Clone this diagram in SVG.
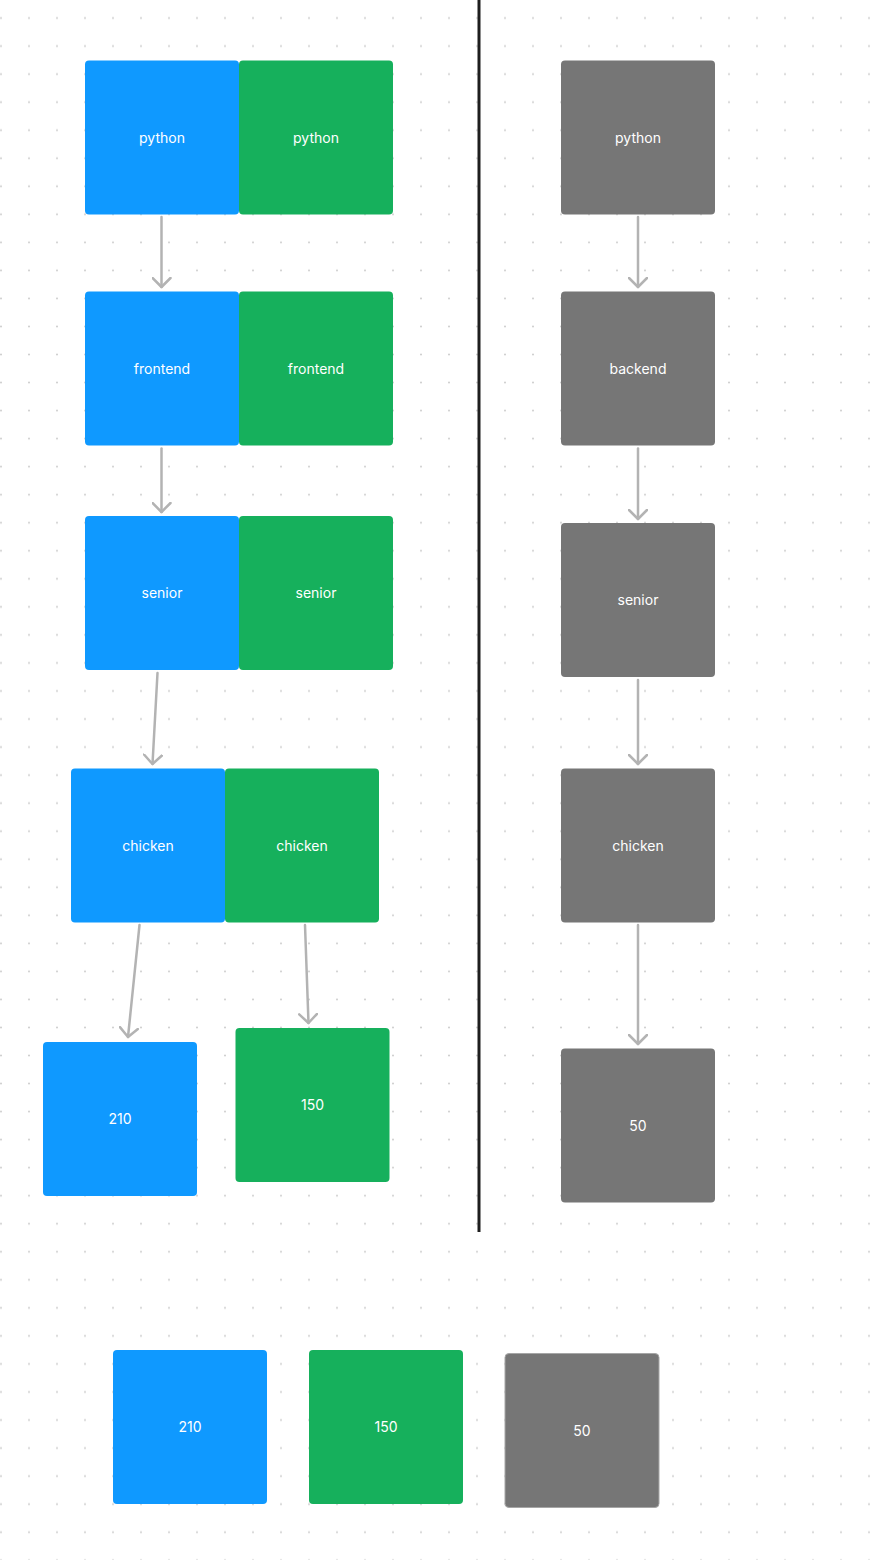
<svg xmlns="http://www.w3.org/2000/svg" width="878" height="1560" viewBox="0 0 878 1560">
  <defs>
    <pattern id="dots" x="-13" y="4" width="28" height="28.04" patternUnits="userSpaceOnUse">
      <circle cx="14" cy="14.02" r="1" fill="#cccccc"/>
    </pattern>
    <marker id="arrow" viewBox="0 0 20 20" refX="10" refY="10" markerWidth="20" markerHeight="20" markerUnits="userSpaceOnUse" orient="auto">
      <path d="M1,1 L10,10 L1,19" fill="none" stroke="#b3b3b3" stroke-width="2.5" stroke-linecap="round" stroke-linejoin="round"/>
    </marker>
  </defs>
  <style>
    .blue { fill: #0f99ff; }
    .green { fill: #16b05c; }
    .gray { fill: #767676; }
    .lbl { font-family: Inter, "Liberation Sans", sans-serif; font-size: 14px; fill: #ffffff; text-anchor: middle; }
    .conn { stroke: #b3b3b3; stroke-width: 2.5; fill: none; stroke-linecap: round; marker-end: url(#arrow); }
  </style>
  <rect x="0" y="0" width="878" height="1560" fill="#ffffff"/>
  <rect x="0" y="0" width="878" height="1560" fill="url(#dots)"/>

  <line id="divider" x1="479" y1="0" x2="479" y2="1232" stroke="#1e1e1e" stroke-width="3"/>

  <g id="connectors">
    <line class="conn" x1="161.5" y1="217" x2="161.5" y2="287"/>
    <line class="conn" x1="161.5" y1="448.5" x2="161.5" y2="512"/>
    <line class="conn" x1="157.5" y1="673" x2="152.5" y2="764"/>
    <line class="conn" x1="139.5" y1="925" x2="128" y2="1037"/>
    <line class="conn" x1="305" y1="925" x2="308.5" y2="1023"/>
    <line class="conn" x1="638" y1="217" x2="638" y2="287"/>
    <line class="conn" x1="638" y1="448.5" x2="638" y2="519"/>
    <line class="conn" x1="638" y1="680" x2="638" y2="764"/>
    <line class="conn" x1="638" y1="925" x2="638" y2="1044"/>
  </g>

  <g id="blue-python"><rect class="blue" x="85" y="60.5" width="154" height="154" rx="4"/><text class="lbl" x="162" y="142.5">python</text></g>
  <g id="green-python"><rect class="green" x="239" y="60.5" width="154" height="154" rx="4"/><text class="lbl" x="316" y="142.5">python</text></g>
  <g id="gray-python"><rect class="gray" x="561" y="60.5" width="154" height="154" rx="4"/><text class="lbl" x="638" y="142.5">python</text></g>

  <g id="blue-frontend"><rect class="blue" x="85" y="291.5" width="154" height="154" rx="4"/><text class="lbl" x="162" y="373.5">frontend</text></g>
  <g id="green-frontend"><rect class="green" x="239" y="291.5" width="154" height="154" rx="4"/><text class="lbl" x="316" y="373.5">frontend</text></g>
  <g id="gray-backend"><rect class="gray" x="561" y="291.5" width="154" height="154" rx="4"/><text class="lbl" x="638" y="373.5">backend</text></g>

  <g id="blue-senior"><rect class="blue" x="85" y="516" width="154" height="154" rx="4"/><text class="lbl" x="162" y="598">senior</text></g>
  <g id="green-senior"><rect class="green" x="239" y="516" width="154" height="154" rx="4"/><text class="lbl" x="316" y="598">senior</text></g>
  <g id="gray-senior"><rect class="gray" x="561" y="523" width="154" height="154" rx="4"/><text class="lbl" x="638" y="605">senior</text></g>

  <g id="blue-chicken"><rect class="blue" x="71" y="768.5" width="154" height="154" rx="4"/><text class="lbl" x="148" y="850.5">chicken</text></g>
  <g id="green-chicken"><rect class="green" x="225" y="768.5" width="154" height="154" rx="4"/><text class="lbl" x="302" y="850.5">chicken</text></g>
  <g id="gray-chicken"><rect class="gray" x="561" y="768.5" width="154" height="154" rx="4"/><text class="lbl" x="638" y="850.5">chicken</text></g>

  <g id="blue-210"><rect class="blue" x="43" y="1042" width="154" height="154" rx="4"/><text class="lbl" x="120" y="1124">210</text></g>
  <g id="green-150"><rect class="green" x="235.5" y="1028" width="154" height="154" rx="4"/><text class="lbl" x="312.5" y="1110">150</text></g>
  <g id="gray-50"><rect class="gray" x="561" y="1048.5" width="154" height="154" rx="4"/><text class="lbl" x="638" y="1130.5">50</text></g>

  <g id="sum-blue-210"><rect class="blue" x="113" y="1350" width="154" height="154" rx="4"/><text class="lbl" x="190" y="1432">210</text></g>
  <g id="sum-green-150"><rect class="green" x="309" y="1350" width="154" height="154" rx="4"/><text class="lbl" x="386" y="1432">150</text></g>
  <g id="sum-gray-50"><rect class="gray" x="505" y="1353.5" width="154" height="154" rx="4" stroke="#a6a6a6" stroke-width="1"/><text class="lbl" x="582" y="1435.5">50</text></g>
</svg>
